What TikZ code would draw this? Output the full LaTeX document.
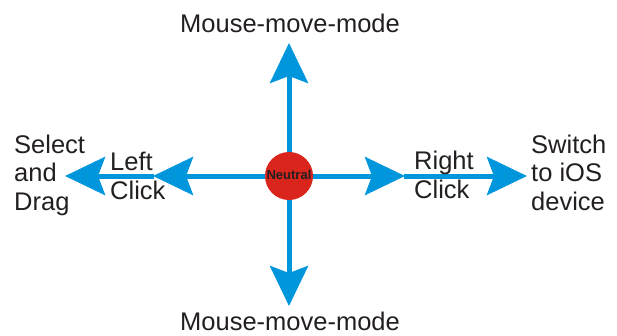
\documentclass[tikz,border=0pt]{standalone}
\usepackage{fontspec}
\setmainfont{Liberation Sans}
\usetikzlibrary{arrows.meta}
\definecolor{armblue}{RGB}{0,150,219}
\definecolor{hubred}{RGB}{218,37,29}
\definecolor{inkgray}{RGB}{35,31,32}
\tikzset{
  arm/.style={line width=5pt, draw=armblue,
    -{Stealth[length=40pt,width=38pt,inset=7pt]}},
  armtext/.style={font=\fontsize{25.5}{28.5}\selectfont, text=inkgray,
    inner sep=0pt, align=left},
}
\begin{document}
\begin{tikzpicture}[x=1pt,y=-1pt]
\useasboundingbox (0,0) rectangle (617,335);

% Arm end points
\coordinate (hub) at (289,176);
\coordinate (upend) at (289,43);
\coordinate (downend) at (289,306);
\coordinate (lclick) at (153,176);
\coordinate (ldrag) at (65,176);
\coordinate (rclick) at (405,176);
\coordinate (rswitch) at (527,176);

% Drawing vertical arms
\draw [arm] (hub) -- (upend);
\draw [arm] (hub) -- (downend);

% Drawing left arm
\draw [arm] (hub) -- (lclick);
\draw [arm] ([xshift=1pt]lclick) -- (ldrag);

% Drawing right arm
\draw [arm] (hub) -- (rclick);
\draw [arm] ([xshift=-1pt]rclick) -- (rswitch);

% Drawing hub
\node (neutral) [circle, fill=hubred, minimum size=48pt, inner sep=0pt] at (hub) {};
\node (neutraltext) [anchor=base, inner sep=0pt, text=inkgray,
  font=\fontsize{13}{15}\selectfont\bfseries] at (289,179) {Neutral};

% Marking labels
\node (mousetop) [armtext, anchor=base] at (290,32) {Mouse-move-mode};
\node (mousebottom) [armtext, anchor=base] at (290,330) {Mouse-move-mode};
\node (select) [armtext, anchor=base west] at (14,210) {Select\\and\\Drag};
\node (leftclick) [armtext, anchor=base west] at (110,199) {Left\\Click};
\node (rightclick) [armtext, anchor=base west] at (414,198) {Right\\Click};
\node (switch) [armtext, anchor=base west] at (531,210) {Switch\\to iOS\\device};
\end{tikzpicture}
\end{document}
